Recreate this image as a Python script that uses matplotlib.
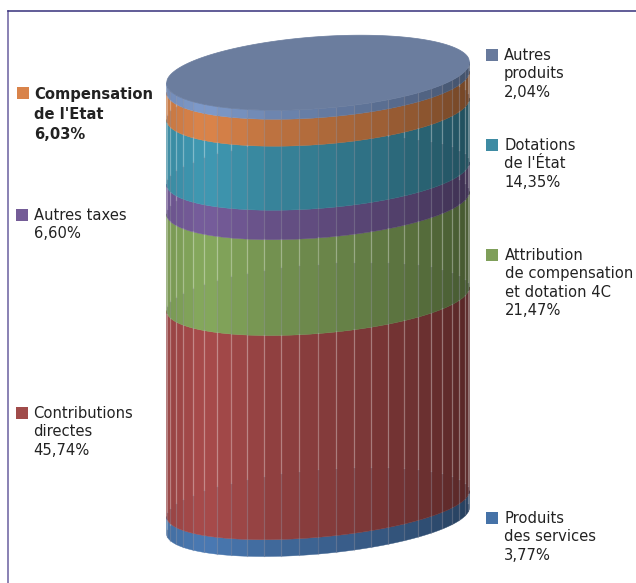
import numpy as np
import matplotlib
matplotlib.use('Agg')
import matplotlib.pyplot as plt
from matplotlib.patches import Rectangle

# de jos in sus, ca pe cilindru
labels = ['Produits\ndes services\n3,77%', 'Contributions\ndirectes\n45,74%',
          'Attribution\nde compensation\net dotation 4C\n21,47%', 'Autres taxes\n6,60%',
          'Dotations\nde l\'État\n14,35%', 'Compensation\nde l\'Etat\n6,03%',
          'Autres\nproduits\n2,04%']
shares = [3.77, 45.74, 21.47, 6.60, 14.35, 6.03, 2.04]
band_colors = ['#4a7ab4', '#a84b4b', '#86a95d', '#775d9c', '#4099b3', '#dc854a', '#7f9bcc']
legend_colors = ['#4572a7', '#a04b4a', '#7f9f5a', '#745c97', '#3e8ba3', '#d9834a', '#687a9c']

# pozitia legendei (x patrat, y patrat, x text)
legend_pos = [(486, 512, 504), (16, 407, 33), (486, 249, 505), (16, 209, 34),
              (486, 139, 504), (17, 87, 34), (486, 49, 504)]

W, H = 636, 583
cx, a = 317.5, 151.5
top_c, bottom_c = 72.2, 520.0
total_h = bottom_c - top_c


def center_y(frac):
    return top_c + frac * total_h


def slope(frac):
    return -(21 + 5 * frac) / (2 * a)


def minor(frac):
    return 36 - 2.4 * frac


def edge(x, frac, back=False):
    # marginea elipsei la nivelul frac (0 sus, 1 jos)
    u = np.clip((x - cx) / a, -1, 1)
    s = -1 if back else 1
    return center_y(frac) + slope(frac) * (x - cx) + s * minor(frac) * np.sqrt(1 - u ** 2)


def shade(color, u):
    f = np.interp(u, [-1, -0.75, -0.3, 0.3, 0.7, 1], [0.9, 1, 0.86, 0.74, 0.64, 0.52])
    return np.array(matplotlib.colors.to_rgb(color)) * f


fig = plt.figure(figsize=(W / 100, H / 100), dpi=100)
ax = fig.add_axes([0, 0, 1, 1])
ax.set_xlim(0, W)
ax.set_ylim(H, 0)
ax.axis('off')

# cadru
ax.plot([8, 8], [11, H], color='#6a5f9f', lw=1.1)
ax.plot([8, W], [11, 11], color='#35307a', lw=1.1)

# fatete verticale
angles = np.arange(0, 180.01, 180 / 26)
xs = cx + a * np.cos(np.radians(angles[::-1]))
xs[0], xs[-1] = cx - a, cx + a

fracs = 1 - np.cumsum(shares) / 100  # nivelul de sus al fiecarei benzi
for i, share in enumerate(shares):
    f_top = fracs[i]
    f_bot = f_top + share / 100
    for j in range(len(xs) - 1):
        x = np.linspace(xs[j], xs[j + 1], 12)
        u = (x.mean() - cx) / a
        ax.fill_between(x, edge(x, f_top), edge(x, f_bot), color=shade(band_colors[i], u),
                        lw=0.3, zorder=2)
    # liniile dintre fatete: deschise pana la spatele elipsei de jos, apoi mai sterse
    for x0 in xs[1:-1]:
        y1 = edge(x0, f_top)
        y2 = edge(x0, f_bot)
        y_back = edge(x0, f_bot, back=True)
        if y_back > y1:
            ax.plot([x0, x0], [y1, y_back], color='white', alpha=0.3, lw=0.9, zorder=3)
        ax.plot([x0, x0], [max(y1, y_back), y2], color='#8a8a9a', alpha=0.35, lw=0.9, zorder=3)

# capacul
x = np.linspace(cx - a, cx + a, 400)
ax.fill_between(x, edge(x, 0, back=True), edge(x, 0), color='#6b7d9e', lw=0.5, zorder=4)

# legenda
for i, lab in enumerate(labels):
    sx, sy, tx = legend_pos[i]
    ax.add_patch(Rectangle((sx, sy), 12, 12, color=legend_colors[i], lw=0))
    bold = lab.startswith('Compensation')
    ax.text(tx, sy - 1 + (1 if bold else 0), lab, fontsize=10.6, color='#222222', va='top', ha='left',
            linespacing=1.42 if bold else 1.29, fontweight='bold' if bold else 'normal')

fig.savefig('out.png', dpi=100)
